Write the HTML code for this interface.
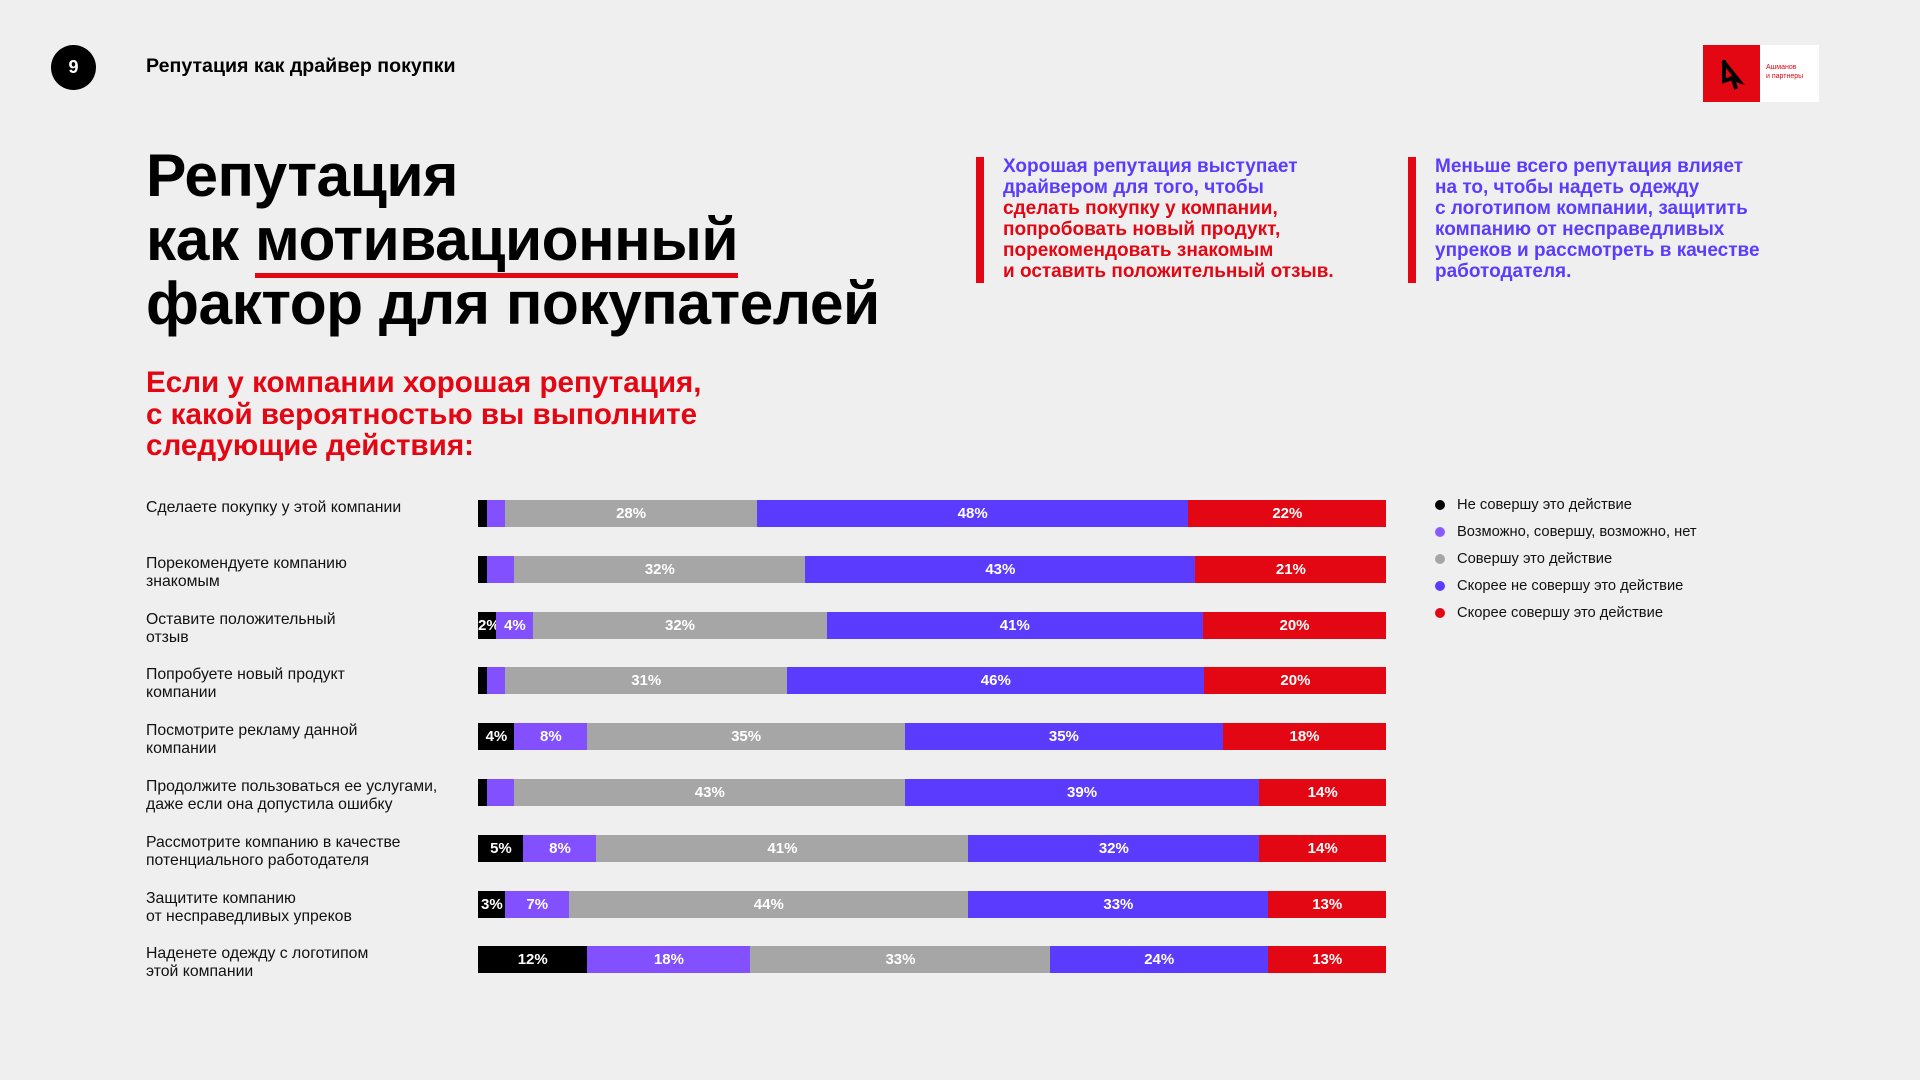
<!DOCTYPE html>
<html><head><meta charset="utf-8">
<style>
body{margin:0;width:1920px;height:1080px;background:#efefef;font-family:"Liberation Sans",sans-serif;position:relative;overflow:hidden}
.abs{position:absolute}
.h1{left:146px;top:143px;font-size:60.5px;font-weight:bold;line-height:64px;color:#000;letter-spacing:-0.5px}
.sub{left:146px;top:367px;font-size:29.6px;font-weight:bold;line-height:31.5px;color:#e30613}
.note{font-size:19px;font-weight:bold;line-height:21px}
.lbl{left:146px;font-size:15.8px;line-height:18px;color:#111}
.leg{left:1435px;font-size:14.7px;color:#111}
.leg span.d{display:inline-block;width:10px;height:10px;border-radius:50%;margin-right:12px;vertical-align:-1px}
</style></head><body>
<div class="abs" style="left:51px;top:45px;width:45px;height:45px;border-radius:50%;background:#000;color:#fff;font-weight:bold;font-size:18px;text-align:center;line-height:45px">9</div>
<div class="abs" style="left:146px;top:55px;font-size:19.6px;font-weight:bold">Репутация как драйвер покупки</div>
<div class="abs" style="left:1703px;top:45px;width:116px;height:57px;background:#fff">
 <div style="position:absolute;left:0;top:0;width:57px;height:57px;background:#e30613"><svg width="57" height="57"><path d="M20 16 L36 36 L30 34 L33 44" stroke="#000" stroke-width="4" fill="none"/><path d="M21 15 L21 36 L30 33" stroke="#000" stroke-width="4" fill="none"/></svg></div>
 <div style="position:absolute;left:63px;top:18px;font-size:7px;line-height:9px;color:#e30613">Ашманов<br>и партнеры</div>
</div>
<div class="abs h1">Репутация<br>как <span style="border-bottom:5px solid #e30613;padding-bottom:0">мотивационный</span><br>фактор для покупателей</div>
<div class="abs sub">Если у компании хорошая репутация,<br>с какой вероятностью вы выполните<br>следующие действия:</div>
<div class="abs" style="left:976px;top:157px;width:8px;height:126px;background:#e30613"></div>
<div class="abs note" style="left:1003px;top:156px;color:#e30613"><span style="color:#5b3cff">Хорошая репутация выступает<br>драйвером для того, чтобы</span><br>сделать покупку у компании,<br>попробовать новый продукт,<br>порекомендовать знакомым<br>и оставить положительный отзыв.</div>
<div class="abs" style="left:1408px;top:157px;width:8px;height:126px;background:#e30613"></div>
<div class="abs note" style="left:1435px;top:156px;color:#5b3cff">Меньше всего репутация влияет<br>на то, чтобы надеть одежду<br>с логотипом компании, защитить<br>компанию от несправедливых<br>упреков и рассмотреть в качестве<br>работодателя.</div>
<div id="chart"></div>
<script>
const categories=["Сделаете покупку у этой компании","Порекомендуете компанию<br>знакомым","Оставите положительный<br>отзыв","Попробуете новый продукт<br>компании","Посмотрите рекламу данной<br>компании","Продолжите пользоваться ее услугами,<br>даже если она допустила ошибку","Рассмотрите компанию в качестве<br>потенциального работодателя","Защитите компанию<br>от несправедливых упреков","Наденете одежду с логотипом<br>этой компании"];
const seriesNames=["Не совершу это действие","Возможно, совершу, возможно, нет","Совершу это действие","Скорее не совершу это действие","Скорее совершу это действие"];
const never=[1,1,2,1,4,1,5,3,12];
const maybe=[2,3,4,2,8,3,8,7,18];
const will=[28,32,32,31,35,43,41,44,33];
const rather_not=[48,43,41,46,35,39,32,33,24];
const rather_will=[22,21,20,20,18,14,14,13,13];
const showLabel=[[0,0,1,1,1],[0,0,1,1,1],[1,1,1,1,1],[0,0,1,1,1],[1,1,1,1,1],[0,0,1,1,1],[1,1,1,1,1],[1,1,1,1,1],[1,1,1,1,1]];
const colors=["#000","#8250ff","#a6a6a6","#5b3cff","#e30613"];
const legendOrder=[0,1,2,3,4];
const legendColors=["#000","#8a5cff","#a6a6a6","#5b3cff","#e30613"];
const X0=478,X1=1386,Y0=500,STEP=55.8,BH=27;
const series=[never,maybe,will,rather_not,rather_will];
const root=document.getElementById('chart');
function yPos(i){return Y0+i*STEP;}
categories.forEach((c,i)=>{
  const l=document.createElement('div');
  l.className='abs lbl';l.style.top=(yPos(i)-1)+'px';l.innerHTML=c;
  
  
  root.appendChild(l);
  const vals=series.map(s=>s[i]);const tot=vals.reduce((a,b)=>a+b,0);
  let acc=0;
  vals.forEach((v,k)=>{
    const x=X0+(acc/tot)*(X1-X0);const w=(v/tot)*(X1-X0);acc+=v;
    const b=document.createElement('div');
    b.className='abs';
    b.style.cssText=`left:${x}px;top:${yPos(i)}px;width:${w+0.5}px;height:${BH}px;background:${colors[k]};color:#fff;font-weight:bold;font-size:15px;line-height:${BH}px;text-align:center;white-space:nowrap`;
    if(showLabel[i][k])b.textContent=v+'%';
    
    
    root.appendChild(b);
  });
});
legendOrder.forEach((k,j)=>{
  const e=document.createElement('div');
  e.className='abs leg';e.style.top=(497+j*27)+'px';
  e.innerHTML=`<span class="d" style="background:${legendColors[k]}"></span>${seriesNames[k]}`;
  
  
  root.appendChild(e);
});
</script>
</body></html>
